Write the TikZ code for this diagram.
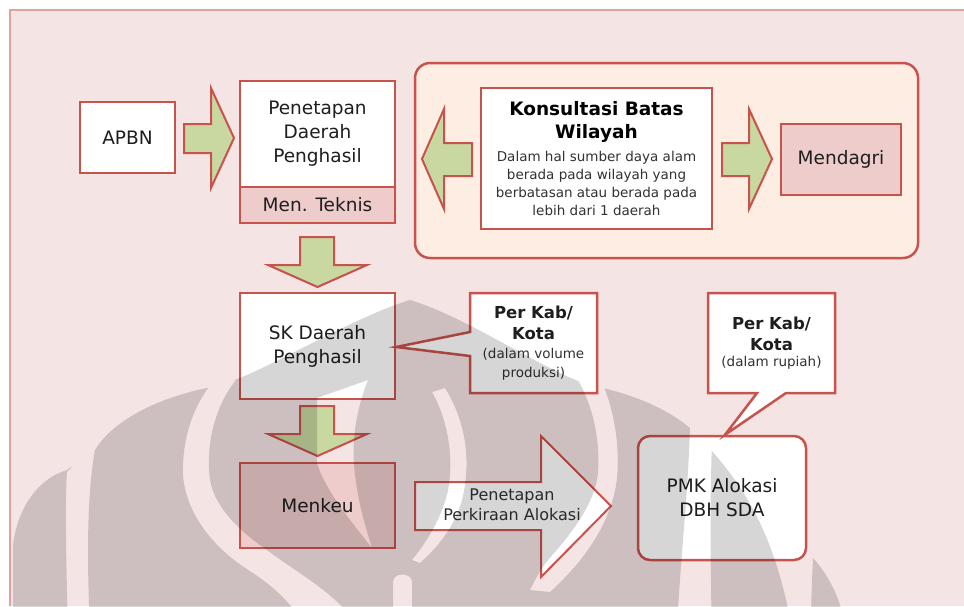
\documentclass[tikz,border=0pt]{standalone}
\usepackage{fontspec}
\setmainfont{DejaVu Sans}
\usetikzlibrary{calc}
\definecolor{bgpink}{RGB}{245,228,228}
\definecolor{framec}{RGB}{226,160,160}
\definecolor{rline}{RGB}{200,82,76}
\definecolor{gfill}{RGB}{200,216,160}
\definecolor{pfill}{RGB}{238,204,204}
\definecolor{panelc}{RGB}{253,237,227}
\definecolor{txt}{RGB}{30,30,30}
\definecolor{stxt}{RGB}{50,50,50}
\begin{document}
\begin{tikzpicture}[x=1pt,y=-1pt,
  box/.style={draw=rline,line width=2.5pt,fill=white,inner sep=0pt,align=center,text=txt,
              font=\fontsize{18.5}{24}\selectfont},
  pbox/.style={box,fill=pfill},
  barrow/.style={draw=rline,line width=2pt,fill=gfill},
  warrow/.style={draw=rline,line width=2pt,fill=white},
  callout/.style={draw=rline,line width=2.5pt,fill=white,line join=miter},
  boldtxt/.style={inner sep=0pt,align=center,text=txt,font=\fontsize{16.5}{21}\selectfont\bfseries},
  smalltxt/.style={inner sep=0pt,align=center,text=stxt,font=\fontsize{13.5}{19}\selectfont},
  wmark/.style={black,opacity=0.16}
]
\useasboundingbox (0,0) rectangle (964,606);
\fill[white] (0,0) rectangle (964,606);
\fill[bgpink] (10,10) rectangle (964,606);
\draw[framec,line width=1.5pt] (10,606) -- (10,10) -- (964,10);

% top row
\node[box,minimum width=95pt,minimum height=71pt] (apbn) at (127.5,137.5) {APBN};
\node[box,minimum width=155pt,minimum height=106pt] (pen) at (317.5,134) {Penetapan\\Daerah\\Penghasil};
\node[pbox,minimum width=155pt,minimum height=36pt] (mt) at (317.5,205) {Men. Teknis};

% arrow APBN -> Penetapan
\draw[barrow] (184,124) -- (211,124) -- (211,88) -- (234,138) -- (211,188) -- (211,153) -- (184,153) -- cycle;

% consultation panel
\node[draw=rline,line width=2.5pt,fill=panelc,rounded corners=15pt,minimum width=503pt,minimum height=195pt] (kpanel) at (666.5,160.5) {};
\node[box,minimum width=231pt,minimum height=141pt] (kons) at (596.5,158.5) {};
\node[inner sep=0pt,align=center,text=black,font=\fontsize{18.5}{23}\selectfont\bfseries] (konsT) at (596.5,122) {Konsultasi Batas\\Wilayah};
\node[smalltxt,font=\fontsize{13.5}{18}\selectfont] (konsD) at (596.5,183) {Dalam hal sumber daya alam\\berada pada wilayah yang\\berbatasan atau berada pada\\lebih dari 1 daerah};
\node[pbox,minimum width=120pt,minimum height=71pt] (mendagri) at (841,159.5) {Mendagri};

% arrows inside panel
\draw[barrow] (472,143) -- (444,143) -- (444,109) -- (422,159) -- (444,209) -- (444,176) -- (472,176) -- cycle;
\draw[barrow] (722,143) -- (749,143) -- (749,109) -- (772,159) -- (749,209) -- (749,176) -- (722,176) -- cycle;

% down arrow 1
\draw[barrow] (300,237) -- (334,237) -- (334,265) -- (367,265) -- (317.5,287) -- (268,265) -- (300,265) -- cycle;

% second row
\node[box,minimum width=155pt,minimum height=106pt] (sk) at (317.5,346) {SK Daerah\\Penghasil};

% down arrow 2
\draw[barrow] (300,406) -- (334,406) -- (334,434) -- (367,434) -- (317.5,456) -- (268,434) -- (300,434) -- cycle;

\node[pbox,minimum width=155pt,minimum height=85pt] (menkeu) at (317.5,505.5) {Menkeu};

% PMK
\node[box,rounded corners=12pt,minimum width=168pt,minimum height=124pt] (pmk) at (722,498) {PMK Alokasi\\DBH SDA};

% callout 1
\draw[callout] (470,293) -- (597,293) -- (597,393) -- (470,393) -- (470,356) -- ($(sk.east)+(0,1)$) -- (470,332) -- cycle;
\node[boldtxt] (c1a) at (533.5,323) {Per Kab/\\Kota};
\node[smalltxt] (c1b) at (533.5,364) {(dalam volume\\produksi)};

% callout 2
\draw[callout] (708,293) -- (835,293) -- (835,393) -- (786,393) -- ($(pmk.north)+(3,0)$) -- (757,393) -- (708,393) -- cycle;
\node[boldtxt] (c2a) at (771.5,334) {Per Kab/\\Kota};
\node[smalltxt] (c2b) at (771.5,363) {(dalam rupiah)};

% big arrow Menkeu -> PMK
\draw[warrow] (415,482) -- (541,482) -- (541,436) -- (611,506) -- (541,577) -- (541,530) -- (415,530) -- cycle;
\node[inner sep=0pt,align=center,text=stxt,font=\fontsize{16}{20}\selectfont] (pplabel) at (512,505) {Penetapan\\Perkiraan Alokasi};

% watermark (faint grey logo over the lower half)
\begin{scope}
\clip (13,630) -- (13,545) .. controls (18,505) and (40,478) .. (67,470) -- (95,450)
  .. controls (110,425) and (150,398) .. (217,386)
  .. controls (260,375) and (350,318) .. (410,300)
  .. controls (470,318) and (550,375) .. (593,386)
  .. controls (640,395) and (680,415) .. (700,438)
  .. controls (740,480) and (775,530) .. (792,630) -- cycle;
\fill[wmark,even odd rule] (0,280) rectangle (964,630)
  (67,472) -- (97,440) .. controls (88,480) and (86,540) .. (90,630) -- (68,630) .. controls (66,560) and (65,500) .. (67,472) -- cycle
  (212,383) .. controls (190,410) and (182,445) .. (183,475) .. controls (186,515) and (215,550) .. (253,573) .. controls (275,588) and (295,605) .. (305,630) -- (360,630) .. controls (340,595) and (300,575) .. (267,550) .. controls (245,535) and (215,510) .. (210,480) .. controls (206,450) and (212,410) .. (236,380) -- cycle
  (317,398) -- (368,380) .. controls (356,410) and (352,440) .. (354,465) .. controls (357,500) and (365,525) .. (372,548) .. controls (350,520) and (325,490) .. (317,463) -- cycle
  (432,392) .. controls (448,420) and (455,460) .. (447,495) .. controls (440,520) and (428,540) .. (412,560) -- (420,563) .. controls (440,545) and (455,525) .. (462,500) .. controls (472,460) and (465,420) .. (445,388) -- cycle
  (393,630) -- (393,582) .. controls (393,572) and (412,572) .. (412,582) -- (412,630) -- cycle
  (578,380) .. controls (595,410) and (600,445) .. (598,472) .. controls (596,500) and (575,530) .. (548,560) .. controls (540,570) and (535,580) .. (530,590) -- (550,592) .. controls (580,565) and (612,525) .. (617,478) .. controls (620,445) and (614,410) .. (602,382) -- cycle
  (690,425) -- (712,440) .. controls (710,500) and (710,560) .. (712,630) -- (677,630) .. controls (680,560) and (688,500) .. (690,425) -- cycle;
\end{scope}
\fill[wmark] (813,558) .. controls (828,575) and (840,595) .. (846,630) -- (811,630) .. controls (811,600) and (812,580) .. (813,558) -- cycle;
\end{tikzpicture}
\end{document}
